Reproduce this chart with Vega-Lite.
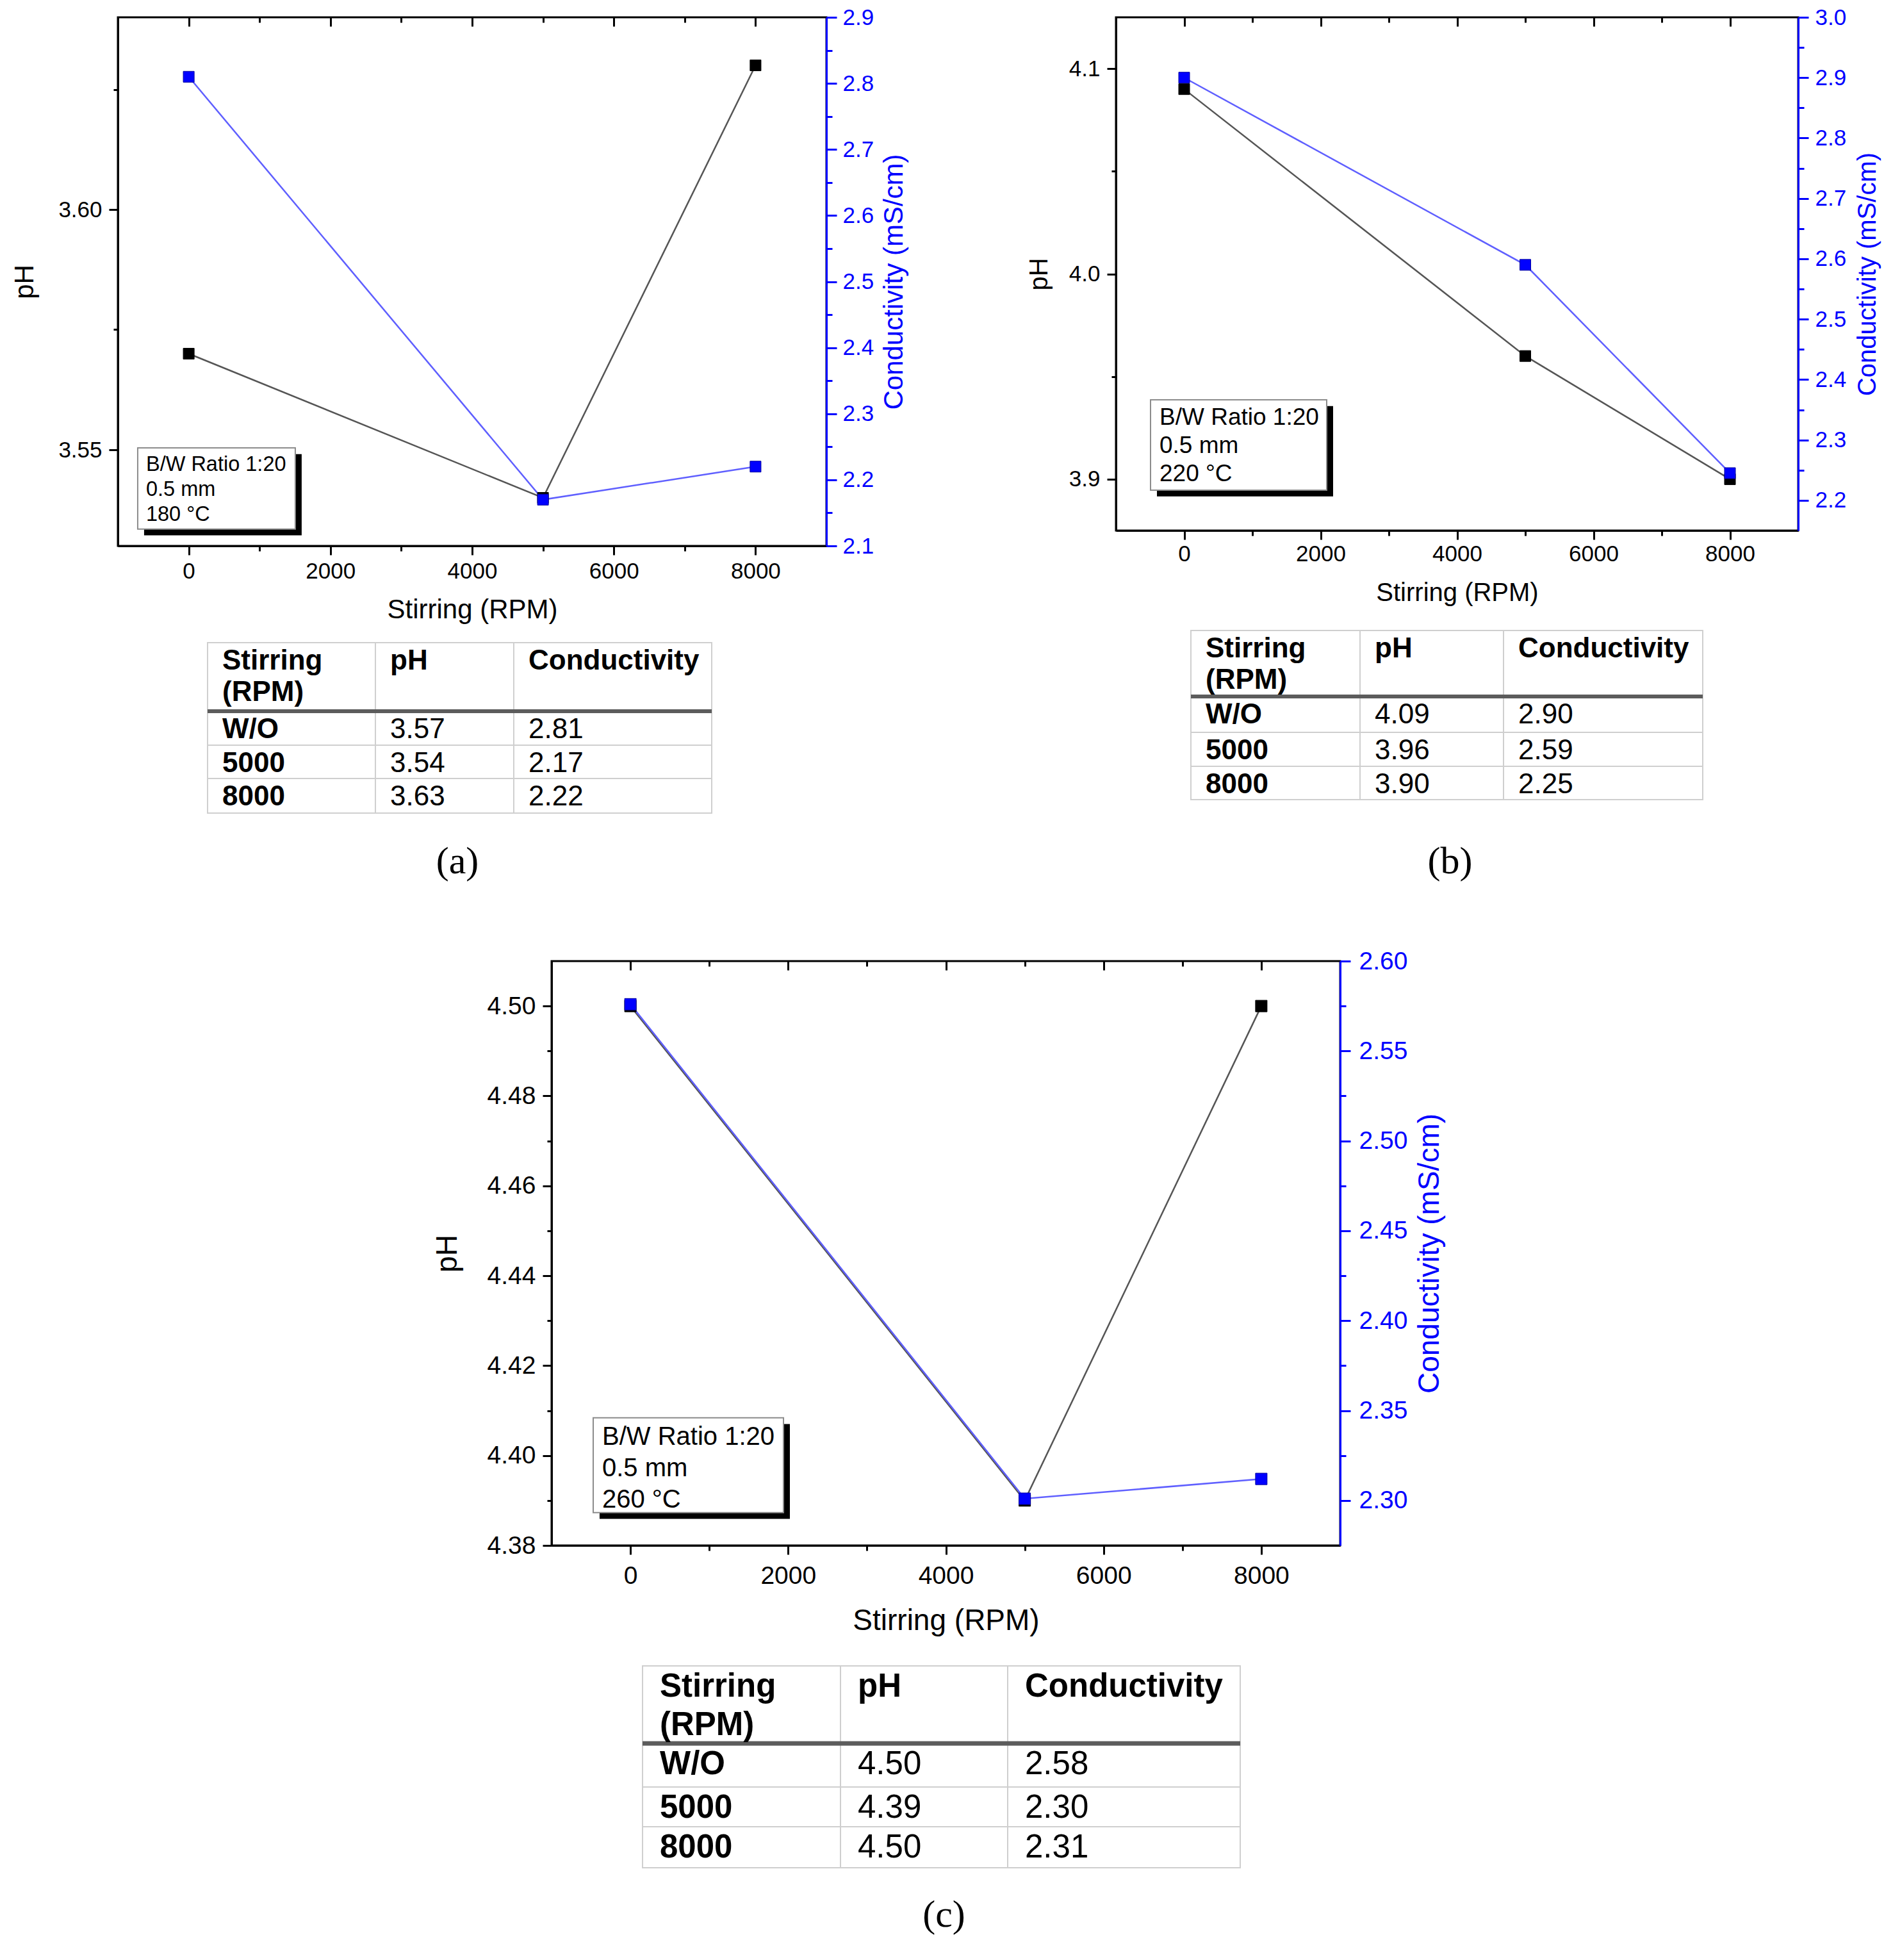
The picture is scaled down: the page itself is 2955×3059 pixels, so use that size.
{
  "$schema": "https://vega.github.io/schema/vega-lite/v6.json",
  "background": "white",
  "padding": {"left": 16, "top": 8, "right": 5, "bottom": 5},
  "autosize": {"type": "pad"},
  "spacing": 102,
  "config": {
    "font": "Liberation Sans",
    "view": {"stroke": null},
    "axis": {"grid": false, "labelFont": "Liberation Sans", "titleFont": "Liberation Sans", "titleFontWeight": "normal", "labelColor": "#000", "titleColor": "#000", "domainColor": "#000", "tickColor": "#000", "domainWidth": 3, "tickWidth": 3, "labelFlush": false, "labelOverlap": false},
    "title": {"font": "Liberation Serif", "fontSize": 60, "fontWeight": "normal", "color": "#000"}
  },
  "datasets": {
    "a": [
      {"stirring": "W/O", "rpm": 0, "pH": 3.57, "cond": 2.81},
      {"stirring": "5000", "rpm": 5000, "pH": 3.54, "cond": 2.17},
      {"stirring": "8000", "rpm": 8000, "pH": 3.63, "cond": 2.22}
    ],
    "b": [
      {"stirring": "W/O", "rpm": 0, "pH": 4.09, "cond": 2.90},
      {"stirring": "5000", "rpm": 5000, "pH": 3.96, "cond": 2.59},
      {"stirring": "8000", "rpm": 8000, "pH": 3.90, "cond": 2.245}
    ],
    "c": [
      {"stirring": "W/O", "rpm": 0, "pH": 4.50, "cond": 2.576},
      {"stirring": "5000", "rpm": 5000, "pH": 4.39, "cond": 2.301},
      {"stirring": "8000", "rpm": 8000, "pH": 4.50, "cond": 2.312}
    ],
    "ta": [
      {"r": 0, "r1": 1, "c": 0, "c1": 1, "kind": "head", "text": "Stirring\n(RPM)"},
      {"r": 0, "r1": 1, "c": 1, "c1": 2, "kind": "head", "text": "pH"},
      {"r": 0, "r1": 1, "c": 2, "c1": 3, "kind": "head", "text": "Conductivity"},
      {"r": 1, "r1": 2, "c": 0, "c1": 1, "kind": "rowhead", "text": "W/O"},
      {"r": 1, "r1": 2, "c": 1, "c1": 2, "kind": "value", "text": "3.57"},
      {"r": 1, "r1": 2, "c": 2, "c1": 3, "kind": "value", "text": "2.81"},
      {"r": 2, "r1": 3, "c": 0, "c1": 1, "kind": "rowhead", "text": "5000"},
      {"r": 2, "r1": 3, "c": 1, "c1": 2, "kind": "value", "text": "3.54"},
      {"r": 2, "r1": 3, "c": 2, "c1": 3, "kind": "value", "text": "2.17"},
      {"r": 3, "r1": 4, "c": 0, "c1": 1, "kind": "rowhead", "text": "8000"},
      {"r": 3, "r1": 4, "c": 1, "c1": 2, "kind": "value", "text": "3.63"},
      {"r": 3, "r1": 4, "c": 2, "c1": 3, "kind": "value", "text": "2.22"}
    ],
    "tb": [
      {"r": 0, "r1": 1, "c": 0, "c1": 1, "kind": "head", "text": "Stirring\n(RPM)"},
      {"r": 0, "r1": 1, "c": 1, "c1": 2, "kind": "head", "text": "pH"},
      {"r": 0, "r1": 1, "c": 2, "c1": 3, "kind": "head", "text": "Conductivity"},
      {"r": 1, "r1": 2, "c": 0, "c1": 1, "kind": "rowhead", "text": "W/O"},
      {"r": 1, "r1": 2, "c": 1, "c1": 2, "kind": "value", "text": "4.09"},
      {"r": 1, "r1": 2, "c": 2, "c1": 3, "kind": "value", "text": "2.90"},
      {"r": 2, "r1": 3, "c": 0, "c1": 1, "kind": "rowhead", "text": "5000"},
      {"r": 2, "r1": 3, "c": 1, "c1": 2, "kind": "value", "text": "3.96"},
      {"r": 2, "r1": 3, "c": 2, "c1": 3, "kind": "value", "text": "2.59"},
      {"r": 3, "r1": 4, "c": 0, "c1": 1, "kind": "rowhead", "text": "8000"},
      {"r": 3, "r1": 4, "c": 1, "c1": 2, "kind": "value", "text": "3.90"},
      {"r": 3, "r1": 4, "c": 2, "c1": 3, "kind": "value", "text": "2.25"}
    ],
    "tc": [
      {"r": 0, "r1": 1, "c": 0, "c1": 1, "kind": "head", "text": "Stirring\n(RPM)"},
      {"r": 0, "r1": 1, "c": 1, "c1": 2, "kind": "head", "text": "pH"},
      {"r": 0, "r1": 1, "c": 2, "c1": 3, "kind": "head", "text": "Conductivity"},
      {"r": 1, "r1": 2, "c": 0, "c1": 1, "kind": "rowhead", "text": "W/O"},
      {"r": 1, "r1": 2, "c": 1, "c1": 2, "kind": "value", "text": "4.50"},
      {"r": 1, "r1": 2, "c": 2, "c1": 3, "kind": "value", "text": "2.58"},
      {"r": 2, "r1": 3, "c": 0, "c1": 1, "kind": "rowhead", "text": "5000"},
      {"r": 2, "r1": 3, "c": 1, "c1": 2, "kind": "value", "text": "4.39"},
      {"r": 2, "r1": 3, "c": 2, "c1": 3, "kind": "value", "text": "2.30"},
      {"r": 3, "r1": 4, "c": 0, "c1": 1, "kind": "rowhead", "text": "8000"},
      {"r": 3, "r1": 4, "c": 1, "c1": 2, "kind": "value", "text": "4.50"},
      {"r": 3, "r1": 4, "c": 2, "c1": 3, "kind": "value", "text": "2.31"}
    ]
  },
  "vconcat": [
    {
      "spacing": 181,
      "hconcat": [
        {
          "width": 1106, "height": 825,
          "view": {"stroke": "#000", "strokeWidth": 3},
          "title": {"text": "(a)", "orient": "bottom", "frame": "group", "anchor": "middle", "baseline": "middle", "offset": 75, "dx": -23},
          "data": {"name": "a"},
          "resolve": {"scale": {"x": "independent", "y": "independent"}, "axis": {"x": "independent", "y": "independent"}},
          "layer": [
            {"mark": {"type": "line", "color": "#555555", "strokeWidth": 2.5},
             "encoding": {
               "x": {"field": "rpm", "type": "quantitative", "scale": {"domain": [-1000, 9000], "nice": false, "zero": false},
                     "axis": {"orient": "bottom", "values": [0, 2000, 4000, 6000, 8000], "format": "d", "tickSize": 14, "labelFontSize": 35, "labelPadding": 8, "title": "Stirring (RPM)", "titleFontSize": 42, "titlePadding": 22}},
               "y": {"field": "pH", "type": "quantitative", "scale": {"domain": [3.53, 3.64], "nice": false, "zero": false},
                     "axis": {"orient": "left", "values": [3.55, 3.6], "format": ".2f", "tickSize": 14, "labelFontSize": 35, "labelPadding": 11, "title": "pH", "titleFontSize": 42, "titlePadding": 30}}
             }},
            {"mark": {"type": "line", "color": "#5f5fff", "strokeWidth": 2.5},
             "encoding": {
               "x": {"field": "rpm", "type": "quantitative", "scale": {"domain": [-1000, 9000], "nice": false, "zero": false},
                     "axis": {"orient": "top", "values": [0, 2000, 4000, 6000, 8000], "tickSize": -14, "labels": false, "domain": false, "title": null}},
               "y": {"field": "cond", "type": "quantitative", "scale": {"domain": [2.1, 2.9], "nice": false, "zero": false},
                     "axis": {"orient": "right", "values": [2.1, 2.2, 2.3, 2.4, 2.5, 2.6, 2.7, 2.8, 2.9], "format": ".1f", "tickSize": 16, "labelFontSize": 35, "labelPadding": 9, "labelColor": "#0000ff", "tickColor": "#0000ff", "domainColor": "#0000ff", "title": "Conductivity (mS/cm)", "titleColor": "#0000ff", "titleFontSize": 42, "titleAngle": 270, "titleBaseline": "top", "titlePadding": 12}}
             }},
            {"mark": {"type": "point", "shape": "square", "filled": true, "fill": "#000", "stroke": "#000", "strokeWidth": 1, "size": 290, "opacity": 1},
             "encoding": {
               "x": {"field": "rpm", "type": "quantitative", "scale": {"domain": [-1000, 9000], "nice": false, "zero": false},
                     "axis": {"orient": "bottom", "values": [1000, 3000, 5000, 7000], "tickSize": 8, "labels": false, "domain": false, "title": null}},
               "y": {"field": "pH", "type": "quantitative", "scale": {"domain": [3.53, 3.64], "nice": false, "zero": false},
                     "axis": {"orient": "left", "values": [3.575, 3.625], "tickSize": 7, "labels": false, "domain": false, "title": null}}
             }},
            {"mark": {"type": "point", "shape": "square", "filled": true, "fill": "#0000ff", "stroke": "#0000a0", "strokeWidth": 1, "size": 290, "opacity": 1},
             "encoding": {
               "x": {"field": "rpm", "type": "quantitative", "scale": {"domain": [-1000, 9000], "nice": false, "zero": false},
                     "axis": {"orient": "top", "values": [1000, 3000, 5000, 7000], "tickSize": -8, "labels": false, "domain": false, "title": null}},
               "y": {"field": "cond", "type": "quantitative", "scale": {"domain": [2.1, 2.9], "nice": false, "zero": false},
                     "axis": {"orient": "right", "values": [2.15, 2.25, 2.35, 2.45, 2.55, 2.65, 2.75, 2.85], "tickSize": 9, "labels": false, "domain": false, "tickColor": "#0000ff", "title": null}}
             }},
            {"data": {"values": [{"note": "B/W Ratio 1:20\n0.5 mm\n180 °C"}]},
             "layer": [
               {"mark": {"type": "rect", "fill": "#000"},
                "encoding": {
                  "x": {"datum": -630, "type": "quantitative", "scale": {"domain": [-1000, 9000], "nice": false, "zero": false}, "axis": null},
                  "x2": {"datum": 1594},
                  "y": {"datum": 3.5491, "type": "quantitative", "scale": {"domain": [3.53, 3.64], "nice": false, "zero": false}, "axis": null},
                  "y2": {"datum": 3.5322}}},
               {"mark": {"type": "rect", "fill": "#fff", "stroke": "#8c8c8c", "strokeWidth": 2},
                "encoding": {
                  "x": {"datum": -720, "type": "quantitative", "scale": {"domain": [-1000, 9000], "nice": false, "zero": false}, "axis": null},
                  "x2": {"datum": 1504},
                  "y": {"datum": 3.5504, "type": "quantitative", "scale": {"domain": [3.53, 3.64], "nice": false, "zero": false}, "axis": null},
                  "y2": {"datum": 3.5335}}},
               {"mark": {"type": "text", "align": "left", "baseline": "top", "fontSize": 32.5, "lineBreak": "\n", "lineHeight": 39, "dx": 13, "dy": 10, "color": "#000"},
                "encoding": {
                  "x": {"datum": -720, "type": "quantitative", "scale": {"domain": [-1000, 9000], "nice": false, "zero": false}, "axis": null},
                  "y": {"datum": 3.5504, "type": "quantitative", "scale": {"domain": [3.53, 3.64], "nice": false, "zero": false}, "axis": null},
                  "text": {"field": "note"}}}
             ]},
            {"data": {"name": "ta"},
             "layer": [
               {"mark": {"type": "rect", "fill": "#fff", "stroke": "#cfcfcf", "strokeWidth": 2},
                "encoding": {
                  "x": {"field": "c", "type": "quantitative", "scale": {"domain": [0, 1, 2, 3], "range": [140, 402, 618, 927], "nice": false, "zero": false}, "axis": null},
                  "x2": {"field": "c1"},
                  "y": {"field": "r", "type": "quantitative", "scale": {"domain": [0, 1, 2, 3, 4], "range": [976, 1083, 1136, 1188, 1242], "nice": false, "zero": false}, "axis": null},
                  "y2": {"field": "r1"}}},
               {"data": {"values": [{"line": "header rule"}]},
                "mark": {"type": "rule", "color": "#5c5c5c", "strokeWidth": 6},
                "encoding": {
                  "x": {"datum": 0, "type": "quantitative", "scale": {"domain": [0, 1, 2, 3], "range": [140, 402, 618, 927], "nice": false, "zero": false}, "axis": null},
                  "x2": {"datum": 3},
                  "y": {"datum": 1, "type": "quantitative", "scale": {"domain": [0, 1, 2, 3, 4], "range": [976, 1083, 1136, 1188, 1242], "nice": false, "zero": false}, "axis": null}}},
               {"transform": [{"filter": "datum.kind !== 'value'"}],
                "mark": {"type": "text", "align": "left", "baseline": "top", "fontSize": 44, "fontWeight": "bold", "lineBreak": "\n", "lineHeight": 49, "dx": 23, "dy": 7, "color": "#000"},
                "encoding": {
                  "x": {"field": "c", "type": "quantitative", "scale": {"domain": [0, 1, 2, 3], "range": [140, 402, 618, 927], "nice": false, "zero": false}, "axis": null},
                  "y": {"field": "r", "type": "quantitative", "scale": {"domain": [0, 1, 2, 3, 4], "range": [976, 1083, 1136, 1188, 1242], "nice": false, "zero": false}, "axis": null},
                  "text": {"field": "text"}}},
               {"transform": [{"filter": "datum.kind === 'value'"}],
                "mark": {"type": "text", "align": "left", "baseline": "top", "fontSize": 44, "fontWeight": "normal", "dx": 23, "dy": 7, "color": "#000"},
                "encoding": {
                  "x": {"field": "c", "type": "quantitative", "scale": {"domain": [0, 1, 2, 3], "range": [140, 402, 618, 927], "nice": false, "zero": false}, "axis": null},
                  "y": {"field": "r", "type": "quantitative", "scale": {"domain": [0, 1, 2, 3, 4], "range": [976, 1083, 1136, 1188, 1242], "nice": false, "zero": false}, "axis": null},
                  "text": {"field": "text"}}}
             ]}
          ]
        },
        {
          "width": 1065, "height": 801,
          "view": {"stroke": "#000", "strokeWidth": 3},
          "title": {"text": "(b)", "orient": "bottom", "frame": "group", "anchor": "middle", "baseline": "middle", "offset": 96, "dx": -11},
          "data": {"name": "b"},
          "resolve": {"scale": {"x": "independent", "y": "independent"}, "axis": {"x": "independent", "y": "independent"}},
          "layer": [
            {"mark": {"type": "line", "color": "#555555", "strokeWidth": 2.5},
             "encoding": {
               "x": {"field": "rpm", "type": "quantitative", "scale": {"domain": [-1000, 9000], "nice": false, "zero": false},
                     "axis": {"orient": "bottom", "values": [0, 2000, 4000, 6000, 8000], "format": "d", "tickSize": 14, "labelFontSize": 35, "labelPadding": 5, "title": "Stirring (RPM)", "titleFontSize": 40, "titlePadding": 23}},
               "y": {"field": "pH", "type": "quantitative", "scale": {"domain": [3.875, 4.125], "nice": false, "zero": false},
                     "axis": {"orient": "left", "values": [3.9, 4.0, 4.1], "format": ".1f", "tickSize": 14, "labelFontSize": 35, "labelPadding": 11, "title": "pH", "titleFontSize": 40, "titlePadding": 26}}
             }},
            {"mark": {"type": "line", "color": "#5f5fff", "strokeWidth": 2.5},
             "encoding": {
               "x": {"field": "rpm", "type": "quantitative", "scale": {"domain": [-1000, 9000], "nice": false, "zero": false},
                     "axis": {"orient": "top", "values": [0, 2000, 4000, 6000, 8000], "tickSize": -14, "labels": false, "domain": false, "title": null}},
               "y": {"field": "cond", "type": "quantitative", "scale": {"domain": [2.15, 3.0], "nice": false, "zero": false},
                     "axis": {"orient": "right", "values": [2.2, 2.3, 2.4, 2.5, 2.6, 2.7, 2.8, 2.9, 3.0], "format": ".1f", "tickSize": 16, "labelFontSize": 35, "labelPadding": 10, "labelColor": "#0000ff", "tickColor": "#0000ff", "domainColor": "#0000ff", "title": "Conductivity (mS/cm)", "titleColor": "#0000ff", "titleFontSize": 40, "titleAngle": 270, "titleBaseline": "top", "titlePadding": 14}}
             }},
            {"mark": {"type": "point", "shape": "square", "filled": true, "fill": "#000", "stroke": "#000", "strokeWidth": 1, "size": 290, "opacity": 1},
             "encoding": {
               "x": {"field": "rpm", "type": "quantitative", "scale": {"domain": [-1000, 9000], "nice": false, "zero": false},
                     "axis": {"orient": "bottom", "values": [1000, 3000, 5000, 7000], "tickSize": 8, "labels": false, "domain": false, "title": null}},
               "y": {"field": "pH", "type": "quantitative", "scale": {"domain": [3.875, 4.125], "nice": false, "zero": false},
                     "axis": {"orient": "left", "values": [3.95, 4.05], "tickSize": 7, "labels": false, "domain": false, "title": null}}
             }},
            {"mark": {"type": "point", "shape": "square", "filled": true, "fill": "#0000ff", "stroke": "#0000a0", "strokeWidth": 1, "size": 290, "opacity": 1},
             "encoding": {
               "x": {"field": "rpm", "type": "quantitative", "scale": {"domain": [-1000, 9000], "nice": false, "zero": false},
                     "axis": {"orient": "top", "values": [1000, 3000, 5000, 7000], "tickSize": -8, "labels": false, "domain": false, "title": null}},
               "y": {"field": "cond", "type": "quantitative", "scale": {"domain": [2.15, 3.0], "nice": false, "zero": false},
                     "axis": {"orient": "right", "values": [2.25, 2.35, 2.45, 2.55, 2.65, 2.75, 2.85, 2.95], "tickSize": 9, "labels": false, "domain": false, "tickColor": "#0000ff", "title": null}}
             }},
            {"data": {"values": [{"note": "B/W Ratio 1:20\n0.5 mm\n220 °C"}]},
             "layer": [
               {"mark": {"type": "rect", "fill": "#000"},
                "encoding": {
                  "x": {"datum": -399, "type": "quantitative", "scale": {"domain": [-1000, 9000], "nice": false, "zero": false}, "axis": null},
                  "x2": {"datum": 2183},
                  "y": {"datum": 3.9356, "type": "quantitative", "scale": {"domain": [3.875, 4.125], "nice": false, "zero": false}, "axis": null},
                  "y2": {"datum": 3.8916}}},
               {"mark": {"type": "rect", "fill": "#fff", "stroke": "#8c8c8c", "strokeWidth": 2},
                "encoding": {
                  "x": {"datum": -493, "type": "quantitative", "scale": {"domain": [-1000, 9000], "nice": false, "zero": false}, "axis": null},
                  "x2": {"datum": 2089},
                  "y": {"datum": 3.9387, "type": "quantitative", "scale": {"domain": [3.875, 4.125], "nice": false, "zero": false}, "axis": null},
                  "y2": {"datum": 3.8947}}},
               {"mark": {"type": "text", "align": "left", "baseline": "top", "fontSize": 37, "lineBreak": "\n", "lineHeight": 44, "dx": 14, "dy": 10, "color": "#000"},
                "encoding": {
                  "x": {"datum": -493, "type": "quantitative", "scale": {"domain": [-1000, 9000], "nice": false, "zero": false}, "axis": null},
                  "y": {"datum": 3.9387, "type": "quantitative", "scale": {"domain": [3.875, 4.125], "nice": false, "zero": false}, "axis": null},
                  "text": {"field": "note"}}}
             ]},
            {"data": {"name": "tb"},
             "layer": [
               {"mark": {"type": "rect", "fill": "#fff", "stroke": "#cfcfcf", "strokeWidth": 2},
                "encoding": {
                  "x": {"field": "c", "type": "quantitative", "scale": {"domain": [0, 1, 2, 3], "range": [117, 381, 605, 916], "nice": false, "zero": false}, "axis": null},
                  "x2": {"field": "c1"},
                  "y": {"field": "r", "type": "quantitative", "scale": {"domain": [0, 1, 2, 3, 4], "range": [957, 1060, 1116, 1169, 1221], "nice": false, "zero": false}, "axis": null},
                  "y2": {"field": "r1"}}},
               {"data": {"values": [{"line": "header rule"}]},
                "mark": {"type": "rule", "color": "#5c5c5c", "strokeWidth": 6},
                "encoding": {
                  "x": {"datum": 0, "type": "quantitative", "scale": {"domain": [0, 1, 2, 3], "range": [117, 381, 605, 916], "nice": false, "zero": false}, "axis": null},
                  "x2": {"datum": 3},
                  "y": {"datum": 1, "type": "quantitative", "scale": {"domain": [0, 1, 2, 3, 4], "range": [957, 1060, 1116, 1169, 1221], "nice": false, "zero": false}, "axis": null}}},
               {"transform": [{"filter": "datum.kind !== 'value'"}],
                "mark": {"type": "text", "align": "left", "baseline": "top", "fontSize": 44, "fontWeight": "bold", "lineBreak": "\n", "lineHeight": 49, "dx": 23, "dy": 7, "color": "#000"},
                "encoding": {
                  "x": {"field": "c", "type": "quantitative", "scale": {"domain": [0, 1, 2, 3], "range": [117, 381, 605, 916], "nice": false, "zero": false}, "axis": null},
                  "y": {"field": "r", "type": "quantitative", "scale": {"domain": [0, 1, 2, 3, 4], "range": [957, 1060, 1116, 1169, 1221], "nice": false, "zero": false}, "axis": null},
                  "text": {"field": "text"}}},
               {"transform": [{"filter": "datum.kind === 'value'"}],
                "mark": {"type": "text", "align": "left", "baseline": "top", "fontSize": 44, "fontWeight": "normal", "dx": 23, "dy": 7, "color": "#000"},
                "encoding": {
                  "x": {"field": "c", "type": "quantitative", "scale": {"domain": [0, 1, 2, 3], "range": [117, 381, 605, 916], "nice": false, "zero": false}, "axis": null},
                  "y": {"field": "r", "type": "quantitative", "scale": {"domain": [0, 1, 2, 3, 4], "range": [957, 1060, 1116, 1169, 1221], "nice": false, "zero": false}, "axis": null},
                  "text": {"field": "text"}}}
             ]}
          ]
        }
      ]
    },
    {
      "spacing": 0,
      "hconcat": [
        {
          "width": 489, "height": 10,
          "data": {"values": [{"blank": "spacer"}]},
          "mark": {"type": "rect", "fill": "#fff"},
          "encoding": {
            "x": {"datum": 0, "type": "quantitative", "scale": {"domain": [0, 1], "nice": false, "zero": false}, "axis": null},
            "x2": {"datum": 1},
            "y": {"datum": 0, "type": "quantitative", "scale": {"domain": [0, 1], "nice": false, "zero": false}, "axis": null},
            "y2": {"datum": 1}
          }
        },
        {
          "width": 1231, "height": 912,
          "view": {"stroke": "#000", "strokeWidth": 3},
          "title": {"text": "(c)", "orient": "bottom", "frame": "group", "anchor": "middle", "baseline": "middle", "offset": 73, "dx": -3},
          "data": {"name": "c"},
          "resolve": {"scale": {"x": "independent", "y": "independent"}, "axis": {"x": "independent", "y": "independent"}},
          "layer": [
            {"mark": {"type": "line", "color": "#555555", "strokeWidth": 2.5},
             "encoding": {
               "x": {"field": "rpm", "type": "quantitative", "scale": {"domain": [-1000, 9000], "nice": false, "zero": false},
                     "axis": {"orient": "bottom", "values": [0, 2000, 4000, 6000, 8000], "format": "d", "tickSize": 14, "labelFontSize": 39, "labelPadding": 14, "title": "Stirring (RPM)", "titleFontSize": 46, "titlePadding": 28}},
               "y": {"field": "pH", "type": "quantitative", "scale": {"domain": [4.38, 4.51], "nice": false, "zero": false},
                     "axis": {"orient": "left", "values": [4.38, 4.40, 4.42, 4.44, 4.46, 4.48, 4.50], "format": ".2f", "tickSize": 14, "labelFontSize": 39, "labelPadding": 11, "title": "pH", "titleFontSize": 46, "titlePadding": 38}}
             }},
            {"mark": {"type": "line", "color": "#5f5fff", "strokeWidth": 2.5},
             "encoding": {
               "x": {"field": "rpm", "type": "quantitative", "scale": {"domain": [-1000, 9000], "nice": false, "zero": false},
                     "axis": {"orient": "top", "values": [0, 2000, 4000, 6000, 8000], "tickSize": -14, "labels": false, "domain": false, "title": null}},
               "y": {"field": "cond", "type": "quantitative", "scale": {"domain": [2.275, 2.60], "nice": false, "zero": false},
                     "axis": {"orient": "right", "values": [2.30, 2.35, 2.40, 2.45, 2.50, 2.55, 2.60], "format": ".2f", "tickSize": 16, "labelFontSize": 39, "labelPadding": 13, "labelColor": "#0000ff", "tickColor": "#0000ff", "domainColor": "#0000ff", "title": "Conductivity (mS/cm)", "titleColor": "#0000ff", "titleFontSize": 46, "titleAngle": 270, "titleBaseline": "top", "titlePadding": 13}}
             }},
            {"mark": {"type": "point", "shape": "square", "filled": true, "fill": "#000", "stroke": "#000", "strokeWidth": 1, "size": 324, "opacity": 1},
             "encoding": {
               "x": {"field": "rpm", "type": "quantitative", "scale": {"domain": [-1000, 9000], "nice": false, "zero": false},
                     "axis": {"orient": "bottom", "values": [1000, 3000, 5000, 7000], "tickSize": 8, "labels": false, "domain": false, "title": null}},
               "y": {"field": "pH", "type": "quantitative", "scale": {"domain": [4.38, 4.51], "nice": false, "zero": false},
                     "axis": {"orient": "left", "values": [4.39, 4.41, 4.43, 4.45, 4.47, 4.49], "tickSize": 7, "labels": false, "domain": false, "title": null}}
             }},
            {"mark": {"type": "point", "shape": "square", "filled": true, "fill": "#0000ff", "stroke": "#0000a0", "strokeWidth": 1, "size": 324, "opacity": 1},
             "encoding": {
               "x": {"field": "rpm", "type": "quantitative", "scale": {"domain": [-1000, 9000], "nice": false, "zero": false},
                     "axis": {"orient": "top", "values": [1000, 3000, 5000, 7000], "tickSize": -8, "labels": false, "domain": false, "title": null}},
               "y": {"field": "cond", "type": "quantitative", "scale": {"domain": [2.275, 2.60], "nice": false, "zero": false},
                     "axis": {"orient": "right", "values": [2.325, 2.375, 2.425, 2.475, 2.525, 2.575], "tickSize": 9, "labels": false, "domain": false, "tickColor": "#0000ff", "title": null}}
             }},
            {"data": {"values": [{"note": "B/W Ratio 1:20\n0.5 mm\n260 °C"}]},
             "layer": [
               {"mark": {"type": "rect", "fill": "#000"},
                "encoding": {
                  "x": {"datum": -391, "type": "quantitative", "scale": {"domain": [-1000, 9000], "nice": false, "zero": false}, "axis": null},
                  "x2": {"datum": 2022},
                  "y": {"datum": 4.4070, "type": "quantitative", "scale": {"domain": [4.38, 4.51], "nice": false, "zero": false}, "axis": null},
                  "y2": {"datum": 4.3859}}},
               {"mark": {"type": "rect", "fill": "#fff", "stroke": "#8c8c8c", "strokeWidth": 2},
                "encoding": {
                  "x": {"datum": -472, "type": "quantitative", "scale": {"domain": [-1000, 9000], "nice": false, "zero": false}, "axis": null},
                  "x2": {"datum": 1941},
                  "y": {"datum": 4.4084, "type": "quantitative", "scale": {"domain": [4.38, 4.51], "nice": false, "zero": false}, "axis": null},
                  "y2": {"datum": 4.3873}}},
               {"mark": {"type": "text", "align": "left", "baseline": "top", "fontSize": 40, "lineBreak": "\n", "lineHeight": 49, "dx": 14, "dy": 10, "color": "#000"},
                "encoding": {
                  "x": {"datum": -472, "type": "quantitative", "scale": {"domain": [-1000, 9000], "nice": false, "zero": false}, "axis": null},
                  "y": {"datum": 4.4084, "type": "quantitative", "scale": {"domain": [4.38, 4.51], "nice": false, "zero": false}, "axis": null},
                  "text": {"field": "note"}}}
             ]},
            {"data": {"name": "tc"},
             "layer": [
               {"mark": {"type": "rect", "fill": "#fff", "stroke": "#cfcfcf", "strokeWidth": 2},
                "encoding": {
                  "x": {"field": "c", "type": "quantitative", "scale": {"domain": [0, 1, 2, 3], "range": [142, 451, 712, 1075], "nice": false, "zero": false}, "axis": null},
                  "x2": {"field": "c1"},
                  "y": {"field": "r", "type": "quantitative", "scale": {"domain": [0, 1, 2, 3, 4], "range": [1100, 1221, 1289, 1351, 1415], "nice": false, "zero": false}, "axis": null},
                  "y2": {"field": "r1"}}},
               {"data": {"values": [{"line": "header rule"}]},
                "mark": {"type": "rule", "color": "#5c5c5c", "strokeWidth": 7},
                "encoding": {
                  "x": {"datum": 0, "type": "quantitative", "scale": {"domain": [0, 1, 2, 3], "range": [142, 451, 712, 1075], "nice": false, "zero": false}, "axis": null},
                  "x2": {"datum": 3},
                  "y": {"datum": 1, "type": "quantitative", "scale": {"domain": [0, 1, 2, 3, 4], "range": [1100, 1221, 1289, 1351, 1415], "nice": false, "zero": false}, "axis": null}}},
               {"transform": [{"filter": "datum.kind !== 'value'"}],
                "mark": {"type": "text", "align": "left", "baseline": "top", "fontSize": 51, "fontWeight": "bold", "lineBreak": "\n", "lineHeight": 60, "dx": 27, "dy": 8, "color": "#000"},
                "encoding": {
                  "x": {"field": "c", "type": "quantitative", "scale": {"domain": [0, 1, 2, 3], "range": [142, 451, 712, 1075], "nice": false, "zero": false}, "axis": null},
                  "y": {"field": "r", "type": "quantitative", "scale": {"domain": [0, 1, 2, 3, 4], "range": [1100, 1221, 1289, 1351, 1415], "nice": false, "zero": false}, "axis": null},
                  "text": {"field": "text"}}},
               {"transform": [{"filter": "datum.kind === 'value'"}],
                "mark": {"type": "text", "align": "left", "baseline": "top", "fontSize": 51, "fontWeight": "normal", "dx": 27, "dy": 8, "color": "#000"},
                "encoding": {
                  "x": {"field": "c", "type": "quantitative", "scale": {"domain": [0, 1, 2, 3], "range": [142, 451, 712, 1075], "nice": false, "zero": false}, "axis": null},
                  "y": {"field": "r", "type": "quantitative", "scale": {"domain": [0, 1, 2, 3, 4], "range": [1100, 1221, 1289, 1351, 1415], "nice": false, "zero": false}, "axis": null},
                  "text": {"field": "text"}}}
             ]}
          ]
        }
      ]
    }
  ]
}
